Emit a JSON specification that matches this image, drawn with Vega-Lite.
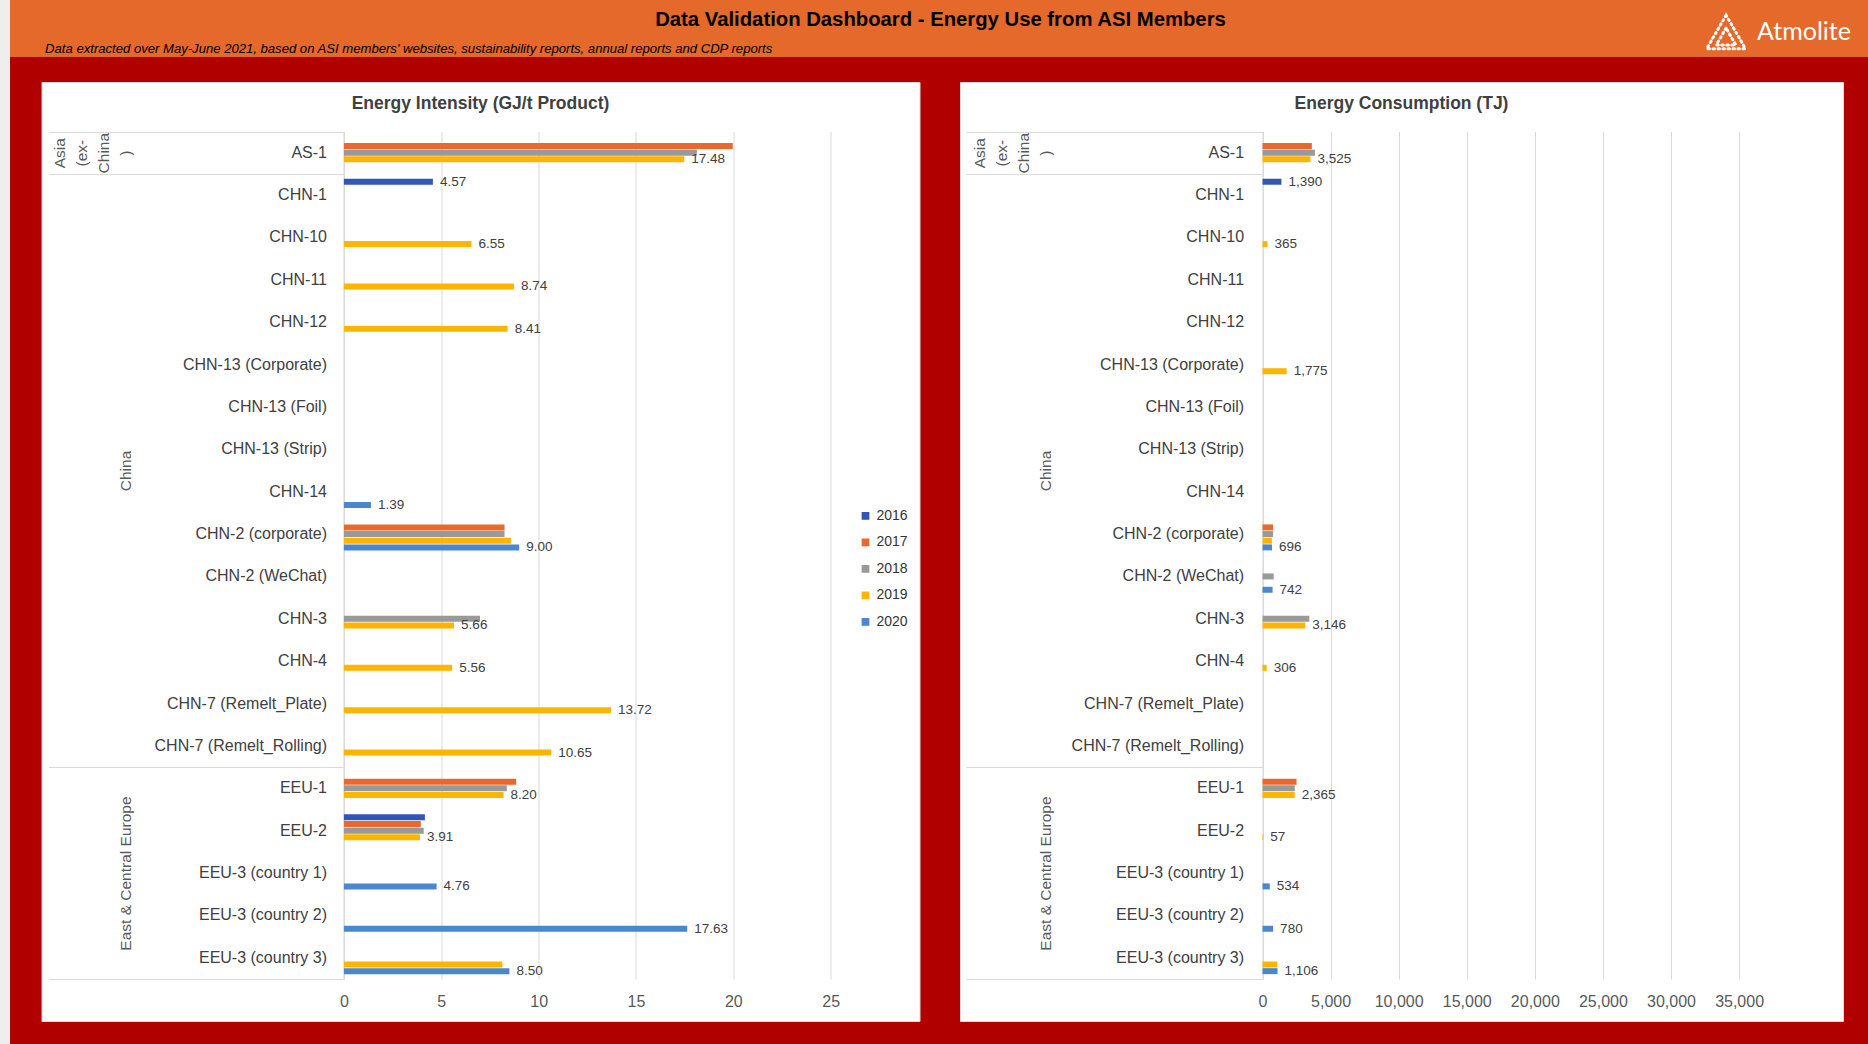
{
  "$schema": "https://vega.github.io/schema/vega-lite/v6.json",
  "background": "#B00000",
  "padding": 0,
  "config": {
    "view": {"stroke": null},
    "font": "Liberation Sans",
    "axis": {"labelFont": "Liberation Sans"},
    "legend": {"labelFont": "Liberation Sans"},
    "title": {"font": "Liberation Sans"},
    "text": {"font": "Liberation Sans"}
  },
  "datasets": {
    "intensity": [
      {"member": "AS-1", "year": 2017, "value": 19.97},
      {"member": "AS-1", "year": 2018, "value": 18.13},
      {"member": "AS-1", "year": 2019, "value": 17.48},
      {"member": "CHN-1", "year": 2016, "value": 4.57},
      {"member": "CHN-10", "year": 2019, "value": 6.55},
      {"member": "CHN-11", "year": 2019, "value": 8.74},
      {"member": "CHN-12", "year": 2019, "value": 8.41},
      {"member": "CHN-14", "year": 2020, "value": 1.39},
      {"member": "CHN-2 (corporate)", "year": 2017, "value": 8.25},
      {"member": "CHN-2 (corporate)", "year": 2018, "value": 8.25},
      {"member": "CHN-2 (corporate)", "year": 2019, "value": 8.58},
      {"member": "CHN-2 (corporate)", "year": 2020, "value": 9.0},
      {"member": "CHN-3", "year": 2018, "value": 6.99},
      {"member": "CHN-3", "year": 2019, "value": 5.66},
      {"member": "CHN-4", "year": 2019, "value": 5.56},
      {"member": "CHN-7 (Remelt_Plate)", "year": 2019, "value": 13.72},
      {"member": "CHN-7 (Remelt_Rolling)", "year": 2019, "value": 10.65},
      {"member": "EEU-1", "year": 2017, "value": 8.85},
      {"member": "EEU-1", "year": 2018, "value": 8.37},
      {"member": "EEU-1", "year": 2019, "value": 8.2},
      {"member": "EEU-2", "year": 2016, "value": 4.16},
      {"member": "EEU-2", "year": 2017, "value": 3.95},
      {"member": "EEU-2", "year": 2018, "value": 4.1},
      {"member": "EEU-2", "year": 2019, "value": 3.91},
      {"member": "EEU-3 (country 1)", "year": 2020, "value": 4.76},
      {"member": "EEU-3 (country 2)", "year": 2020, "value": 17.63},
      {"member": "EEU-3 (country 3)", "year": 2019, "value": 8.14},
      {"member": "EEU-3 (country 3)", "year": 2020, "value": 8.5}
    ],
    "consumption": [
      {"member": "AS-1", "year": 2017, "value": 3625},
      {"member": "AS-1", "year": 2018, "value": 3850},
      {"member": "AS-1", "year": 2019, "value": 3525},
      {"member": "CHN-1", "year": 2016, "value": 1390},
      {"member": "CHN-10", "year": 2019, "value": 365},
      {"member": "CHN-13 (Corporate)", "year": 2019, "value": 1775},
      {"member": "CHN-2 (corporate)", "year": 2017, "value": 770},
      {"member": "CHN-2 (corporate)", "year": 2018, "value": 770},
      {"member": "CHN-2 (corporate)", "year": 2019, "value": 690},
      {"member": "CHN-2 (corporate)", "year": 2020, "value": 696},
      {"member": "CHN-2 (WeChat)", "year": 2018, "value": 820},
      {"member": "CHN-2 (WeChat)", "year": 2020, "value": 742},
      {"member": "CHN-3", "year": 2018, "value": 3440},
      {"member": "CHN-3", "year": 2019, "value": 3146},
      {"member": "CHN-4", "year": 2019, "value": 306},
      {"member": "EEU-1", "year": 2017, "value": 2500},
      {"member": "EEU-1", "year": 2018, "value": 2370},
      {"member": "EEU-1", "year": 2019, "value": 2365},
      {"member": "EEU-2", "year": 2019, "value": 57},
      {"member": "EEU-3 (country 1)", "year": 2020, "value": 534},
      {"member": "EEU-3 (country 2)", "year": 2020, "value": 780},
      {"member": "EEU-3 (country 3)", "year": 2019, "value": 1090},
      {"member": "EEU-3 (country 3)", "year": 2020, "value": 1106}
    ]
  },
  "spacing": 0,
  "hconcat": [
    {
      "width": 10,
      "height": 1044,
      "view": {"fill": "#eeeeee", "stroke": null},
      "data": {"values": [{"a": 1}]},
      "mark": {"type": "point", "opacity": 0, "size": 0, "strokeWidth": 0},
      "encoding": {}
    },
    {
      "spacing": 24,
      "vconcat": [
        {
          "width": 1858,
          "height": 57,
          "view": {"fill": "#E4692B", "stroke": null},
          "data": {"values": [{"title": "Data Validation Dashboard - Energy Use from ASI Members", "subtitle": "Data extracted over May-June 2021, based on ASI members' websites, sustainability reports, annual reports and CDP reports", "brand": "Atmolite"}]},
          "layer": [
            {
              "mark": {"type": "text", "fontSize": 20.3, "fontWeight": "bold", "color": "#000000", "align": "center", "baseline": "middle"},
              "encoding": {
                "text": {"field": "title"},
                "x": {"datum": 0.5008, "type": "quantitative", "scale": {"domain": [0, 1], "nice": false, "zero": false}, "axis": null},
                "y": {"datum": 0.649, "type": "quantitative", "scale": {"domain": [0, 1], "nice": false, "zero": false}, "axis": null}
              }
            },
            {
              "mark": {"type": "text", "fontSize": 13.1, "fontStyle": "italic", "color": "#000000", "align": "left", "baseline": "middle"},
              "encoding": {
                "text": {"field": "subtitle"},
                "x": {"datum": 0.0189, "type": "quantitative"},
                "y": {"datum": 0.14, "type": "quantitative"}
              }
            },
            {
              "mark": {"type": "text", "fontSize": 25, "font": "Lato", "color": "#ffffff", "align": "left", "baseline": "middle"},
              "encoding": {
                "text": {"field": "brand"},
                "x": {"datum": 0.9403, "type": "quantitative"},
                "y": {"datum": 0.44, "type": "quantitative"}
              }
            },
            {
              "mark": {"type": "point", "shape": "triangle-up", "size": 1500, "filled": false, "stroke": "#ffffff", "strokeWidth": 3, "strokeDash": [1.5, 3.5], "strokeCap": "round", "opacity": 1},
              "encoding": {
                "x": {"datum": 0.9236, "type": "quantitative"},
                "y": {"datum": 0.44, "type": "quantitative"}
              }
            },
            {
              "mark": {"type": "point", "shape": "triangle-up", "size": 380, "filled": false, "stroke": "#ffffff", "strokeWidth": 3, "strokeDash": [1.5, 3.5], "strokeCap": "round", "opacity": 1},
              "encoding": {
                "x": {"datum": 0.9236, "type": "quantitative"},
                "y": {"datum": 0.36, "type": "quantitative"}
              }
            }
          ]
        },
        {
          "spacing": 29.5,
          "hconcat": [
            {
              "width": 1,
              "height": 939,
              "view": {"stroke": null},
              "data": {"values": [{"a": 1}]},
              "mark": {"type": "point", "opacity": 0, "size": 0, "strokeWidth": 0},
              "encoding": {}
            },
            {
              "spacing": 38.5,
              "hconcat": [
                {
                  "width": 878,
                  "height": 939,
                  "view": {"fill": "#ffffff", "stroke": "#d9d9d9"},
                  "title": {"text": "Energy Intensity (GJ/t Product)", "offset": -30, "anchor": "middle", "frame": "group", "fontSize": 17.5, "fontWeight": "bold", "color": "#404040"},
                  "data": {"name": "intensity"},
                  "layer": [
                    {
                      "mark": {"type": "bar"},
                      "encoding": {
                        "x": {"field": "value", "type": "quantitative", "scale": {"domain": [0, 25], "range": [302.4, 789.2], "nice": false, "zero": true},
                          "axis": {"orient": "top", "values": [0, 5, 10, 15, 20, 25], "title": null, "domain": false, "ticks": false, "labels": false, "grid": true, "gridColor": "#d9d9d9", "gridWidth": 1}},
                        "y": {"field": "member", "type": "nominal", "sort": null,
                          "scale": {"domain": ["AS-1", "CHN-1", "CHN-10", "CHN-11", "CHN-12", "CHN-13 (Corporate)", "CHN-13 (Foil)", "CHN-13 (Strip)", "CHN-14", "CHN-2 (corporate)", "CHN-2 (WeChat)", "CHN-3", "CHN-4", "CHN-7 (Remelt_Plate)", "CHN-7 (Remelt_Rolling)", "EEU-1", "EEU-2", "EEU-3 (country 1)", "EEU-3 (country 2)", "EEU-3 (country 3)"], "range": [49.5, 897], "paddingInner": 0, "paddingOuter": 0},
                          "axis": {"orient": "left", "offset": -302.4, "title": null, "ticks": false, "domain": true, "domainColor": "#d9d9d9", "domainWidth": 1, "labelPadding": 17.4, "labelFontSize": 16, "labelColor": "#404040", "labelLimit": 400, "labelAlign": "right", "labelBaseline": "middle", "grid": false}},
                        "yOffset": {"field": "year", "type": "nominal", "scale": {"domain": [2016, 2017, 2018, 2019, 2020], "paddingInner": 0.1, "paddingOuter": 0.73}},
                        "color": {"field": "year", "type": "nominal", "scale": {"domain": [2016, 2017, 2018, 2019, 2020], "range": ["#3455B8", "#E8692B", "#999999", "#FFB400", "#4A87CF"]},
                          "legend": {"orient": "none", "legendX": 858.5, "legendY": 508.9, "title": null, "symbolType": "square", "symbolSize": 60, "symbolStrokeWidth": 0, "labelFontSize": 14, "labelColor": "#333333", "rowPadding": 12.5, "labelOffset": 4, "padding": 0, "direction": "vertical"}}
                      }
                    },
                    {
                      "transform": [
                        {"joinaggregate": [{"op": "max", "field": "year", "as": "latest"}], "groupby": ["member"]},
                        {"filter": "datum.year === datum.latest"}
                      ],
                      "mark": {"type": "text", "align": "left", "baseline": "middle", "dx": 7, "fontSize": 13.5, "color": "#404040"},
                      "encoding": {
                        "x": {"field": "value", "type": "quantitative", "scale": {"domain": [0, 25], "range": [302.4, 789.2], "nice": false, "zero": true},
                          "axis": {"orient": "bottom", "offset": -42, "values": [0, 5, 10, 15, 20, 25], "title": null, "domain": false, "ticks": false, "grid": false, "labelPadding": 14.6, "labelFontSize": 16, "labelColor": "#595959", "labelOverlap": false, "labelFlush": false}},
                        "y": {"field": "member", "type": "nominal", "sort": null,
                          "scale": {"domain": ["AS-1", "CHN-1", "CHN-10", "CHN-11", "CHN-12", "CHN-13 (Corporate)", "CHN-13 (Foil)", "CHN-13 (Strip)", "CHN-14", "CHN-2 (corporate)", "CHN-2 (WeChat)", "CHN-3", "CHN-4", "CHN-7 (Remelt_Plate)", "CHN-7 (Remelt_Rolling)", "EEU-1", "EEU-2", "EEU-3 (country 1)", "EEU-3 (country 2)", "EEU-3 (country 3)"], "range": [49.5, 897], "paddingInner": 0, "paddingOuter": 0},
                          "axis": {"orient": "left", "offset": -302.4, "title": null, "domain": false, "grid": false, "ticks": true, "tickBand": "extent", "tickSize": 295.4, "tickColor": "#d9d9d9", "tickWidth": 1,
                            "tickOpacity": {"condition": {"test": "!isValid(datum.value) || datum.value === 'AS-1' || datum.value === 'CHN-7 (Remelt_Rolling)' || datum.value === 'EEU-3 (country 3)'", "value": 1}, "value": 0},
                            "labelExpr": "datum.value === 'AS-1' ? ['Asia', '(ex-', 'China', ')'] : datum.value === 'CHN-13 (Strip)' ? 'China' : datum.value === 'EEU-3 (country 1)' ? 'East & Central Europe' : ''",
                            "labelAngle": 270, "labelAlign": "center", "labelBaseline": "bottom",
                            "labelPadding": {"condition": {"test": "datum.value === 'AS-1'", "value": -18.5}, "value": -84.5},
                            "labelOffset": {"condition": {"test": "datum.value === 'CHN-13 (Strip)'", "value": 21.18}, "value": 0},
                            "labelFontSize": 15.5, "labelColor": "#595959", "labelLineHeight": 22, "labelOverlap": false, "labelFlush": false, "labelLimit": 400}},
                        "yOffset": {"field": "year", "type": "nominal", "scale": {"domain": [2016, 2017, 2018, 2019, 2020], "paddingInner": 0.1, "paddingOuter": 0.73}},
                        "text": {"field": "value", "type": "quantitative", "format": ".2f"}
                      }
                    }
                  ],
                  "resolve": {"axis": {"x": "independent", "y": "independent"}}
                },
                {
                  "width": 883,
                  "height": 939,
                  "view": {"fill": "#ffffff", "stroke": "#d9d9d9"},
                  "title": {"text": "Energy Consumption (TJ)", "offset": -30, "anchor": "middle", "frame": "group", "fontSize": 17.5, "fontWeight": "bold", "color": "#404040"},
                  "data": {"name": "consumption"},
                  "layer": [
                    {
                      "mark": {"type": "bar"},
                      "encoding": {
                        "x": {"field": "value", "type": "quantitative", "scale": {"domain": [0, 35000], "range": [302.5, 779.1], "nice": false, "zero": true},
                          "axis": {"orient": "top", "values": [0, 5000, 10000, 15000, 20000, 25000, 30000, 35000], "title": null, "domain": false, "ticks": false, "labels": false, "grid": true, "gridColor": "#d9d9d9", "gridWidth": 1}},
                        "y": {"field": "member", "type": "nominal", "sort": null,
                          "scale": {"domain": ["AS-1", "CHN-1", "CHN-10", "CHN-11", "CHN-12", "CHN-13 (Corporate)", "CHN-13 (Foil)", "CHN-13 (Strip)", "CHN-14", "CHN-2 (corporate)", "CHN-2 (WeChat)", "CHN-3", "CHN-4", "CHN-7 (Remelt_Plate)", "CHN-7 (Remelt_Rolling)", "EEU-1", "EEU-2", "EEU-3 (country 1)", "EEU-3 (country 2)", "EEU-3 (country 3)"], "range": [49.5, 897], "paddingInner": 0, "paddingOuter": 0},
                          "axis": {"orient": "left", "offset": -302.5, "title": null, "ticks": false, "domain": true, "domainColor": "#d9d9d9", "domainWidth": 1, "labelPadding": 18.9, "labelFontSize": 16, "labelColor": "#404040", "labelLimit": 400, "labelAlign": "right", "labelBaseline": "middle", "grid": false}},
                        "yOffset": {"field": "year", "type": "nominal", "scale": {"domain": [2016, 2017, 2018, 2019, 2020], "paddingInner": 0.1, "paddingOuter": 0.73}},
                        "color": {"field": "year", "type": "nominal", "scale": {"domain": [2016, 2017, 2018, 2019, 2020], "range": ["#3455B8", "#E8692B", "#999999", "#FFB400", "#4A87CF"]},
                          "legend": {"orient": "none", "legendX": 870.7, "legendY": 508.9, "title": null, "symbolType": "square", "symbolSize": 60, "symbolStrokeWidth": 0, "labelFontSize": 14, "labelColor": "#333333", "rowPadding": 12.5, "labelOffset": 4, "padding": 0, "direction": "vertical"}}
                      }
                    },
                    {
                      "transform": [
                        {"joinaggregate": [{"op": "max", "field": "year", "as": "latest"}], "groupby": ["member"]},
                        {"filter": "datum.year === datum.latest"}
                      ],
                      "mark": {"type": "text", "align": "left", "baseline": "middle", "dx": 7, "fontSize": 13.5, "color": "#404040"},
                      "encoding": {
                        "x": {"field": "value", "type": "quantitative", "scale": {"domain": [0, 35000], "range": [302.5, 779.1], "nice": false, "zero": true},
                          "axis": {"orient": "bottom", "offset": -42, "values": [0, 5000, 10000, 15000, 20000, 25000, 30000, 35000], "format": ",d", "title": null, "domain": false, "ticks": false, "grid": false, "labelPadding": 14.6, "labelFontSize": 16, "labelColor": "#595959", "labelOverlap": false, "labelFlush": false}},
                        "y": {"field": "member", "type": "nominal", "sort": null,
                          "scale": {"domain": ["AS-1", "CHN-1", "CHN-10", "CHN-11", "CHN-12", "CHN-13 (Corporate)", "CHN-13 (Foil)", "CHN-13 (Strip)", "CHN-14", "CHN-2 (corporate)", "CHN-2 (WeChat)", "CHN-3", "CHN-4", "CHN-7 (Remelt_Plate)", "CHN-7 (Remelt_Rolling)", "EEU-1", "EEU-2", "EEU-3 (country 1)", "EEU-3 (country 2)", "EEU-3 (country 3)"], "range": [49.5, 897], "paddingInner": 0, "paddingOuter": 0},
                          "axis": {"orient": "left", "offset": -302.5, "title": null, "domain": false, "grid": false, "ticks": true, "tickBand": "extent", "tickSize": 296.5, "tickColor": "#d9d9d9", "tickWidth": 1,
                            "tickOpacity": {"condition": {"test": "!isValid(datum.value) || datum.value === 'AS-1' || datum.value === 'CHN-7 (Remelt_Rolling)' || datum.value === 'EEU-3 (country 3)'", "value": 1}, "value": 0},
                            "labelExpr": "datum.value === 'AS-1' ? ['Asia', '(ex-', 'China', ')'] : datum.value === 'CHN-13 (Strip)' ? 'China' : datum.value === 'EEU-3 (country 1)' ? 'East & Central Europe' : ''",
                            "labelAngle": 270, "labelAlign": "center", "labelBaseline": "bottom",
                            "labelPadding": {"condition": {"test": "datum.value === 'AS-1'", "value": -21}, "value": -87},
                            "labelOffset": {"condition": {"test": "datum.value === 'CHN-13 (Strip)'", "value": 21.18}, "value": 0},
                            "labelFontSize": 15.5, "labelColor": "#595959", "labelLineHeight": 22, "labelOverlap": false, "labelFlush": false, "labelLimit": 400}},
                        "yOffset": {"field": "year", "type": "nominal", "scale": {"domain": [2016, 2017, 2018, 2019, 2020], "paddingInner": 0.1, "paddingOuter": 0.73}},
                        "text": {"field": "value", "type": "quantitative", "format": ",.0f"}
                      }
                    }
                  ],
                  "resolve": {"axis": {"x": "independent", "y": "independent"}}
                }
              ]
            }
          ]
        }
      ]
    }
  ]
}
